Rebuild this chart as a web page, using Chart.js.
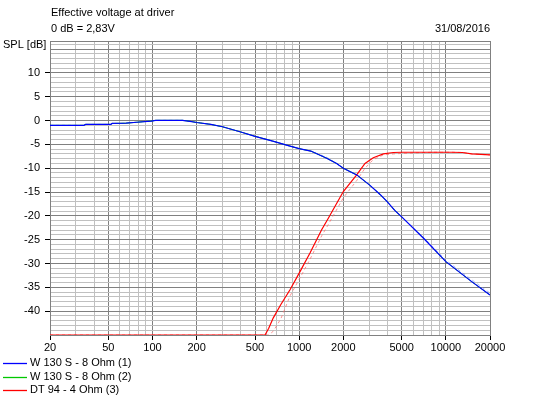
<!DOCTYPE html>
<html>
<head>
<meta charset="utf-8">
<script src="https://cdn.jsdelivr.net/npm/chart.js@4"></script>
<style>
  html, body { margin: 0; padding: 0; background: #ffffff; }
  canvas { display: block; }
</style>
</head>
<body>
<canvas id="c" width="535" height="398"></canvas>
<script>
// ---- data ----
const titleLine1 = "Effective voltage at driver";
const titleLine2 = "0 dB = 2,83V";
const dateText = "31/08/2016";
const yAxisTitle = "SPL [dB]";

const seriesNames = ["W 130 S - 8 Ohm (1)", "W 130 S - 8 Ohm (2)", "DT 94 - 4 Ohm (3)"];

const wooferFreq = [20, 34, 35, 52, 53, 66, 78, 98, 105, 160, 180, 200, 250, 300, 400, 500, 660, 820, 1000, 1200, 1540, 1800, 2000, 2470, 3040, 3560, 3950, 4500, 5000, 7100, 10000, 15000, 20000];
const wooferDb   = [-1.0, -1.0, -0.8, -0.8, -0.6, -0.55, -0.35, -0.1, 0.05, 0.05, -0.15, -0.4, -0.8, -1.3, -2.4, -3.3, -4.3, -5.15, -5.9, -6.4, -7.9, -9.0, -10.0, -11.4, -13.6, -15.5, -16.9, -18.9, -20.2, -24.8, -29.6, -33.8, -36.6];
const wooferRefDb = [-1.0, -1.0, -0.8, -0.8, -0.6, -0.55, -0.35, -0.1, 0.05, 0.05, -0.15, -0.4, -0.8, -1.3, -2.4, -3.3, -4.3, -5.15, -5.9, -6.4, -7.7, -9.0, -10.0, -11.4, -13.6, -15.5, -16.9, -18.9, -20.2, -24.6, -29.3, -33.4, -36.2];

const tweeterFreq = [20, 100, 585, 620, 666, 750, 866, 1013, 1185, 1423, 1580, 2000, 2466, 2810, 3200, 3750, 4380, 5000, 8000, 11000, 13000, 15000, 20000];
const tweeterDb   = [-45, -45, -45, -43.6, -41.4, -38.6, -35.5, -31.7, -27.8, -22.9, -20.5, -14.9, -11.4, -9.0, -7.8, -7.0, -6.7, -6.65, -6.65, -6.65, -6.7, -7.0, -7.2];
const tweeterRefDb = [-45, -45, -45, -45, -44.2, -41.6, -36.8, -33.0, -29.1, -24.2, -21.8, -16.2, -12.6, -10.0, -8.2, -7.2, -7.0, -6.9, -6.65, -6.65, -6.7, -7.0, -7.2];

const xTickValues = [20, 30, 40, 50, 60, 70, 80, 90, 100, 200, 300, 400, 500, 600, 700, 800, 900, 1000, 2000, 3000, 4000, 5000, 6000, 7000, 8000, 9000, 10000, 20000];
const xTickLabels = [20, 50, 100, 200, 500, 1000, 2000, 5000, 10000, 20000];
const yMin = -45, yMax = 16.7;
const yTickLabels = [10, 5, 0, -5, -10, -15, -20, -25, -30, -35, -40];

// ---- helpers ----
const pts = (xs, ys) => xs.map((x, i) => ({ x: x, y: ys[i] }));
const DARK = '#808080', LIGHT = '#c0c0c0';
const FONT = '"Liberation Sans", Arial, sans-serif';

Chart.defaults.font.family = FONT;
Chart.defaults.font.size = 11;
Chart.defaults.color = '#000000';

const textPlugin = {
  id: 'texts',
  afterDraw(chart) {
    const ctx = chart.ctx;
    const ca = chart.chartArea;
    ctx.save();
    ctx.font = '11px ' + FONT;
    ctx.fillStyle = '#000';
    ctx.textBaseline = 'middle';
    ctx.textAlign = 'left';
    ctx.fillText(titleLine1, 51, 13);
    ctx.fillText(titleLine2, 51, 29);
    ctx.fillText(yAxisTitle, 3, 45);
    ctx.textAlign = 'right';
    ctx.fillText(dateText, ca.right, 29);
    // legend, in series order
    ctx.textAlign = 'left';
    seriesNames.forEach((name, i) => {
      const d = chart.data.datasets.find(ds => ds.label === name);
      if (!d) return;
      const y = 363 + i * 13.5;
      ctx.strokeStyle = d.borderColor;
      ctx.lineWidth = 1.3;
      ctx.beginPath();
      ctx.moveTo(3, Math.round(y) + 0.5);
      ctx.lineTo(27, Math.round(y) + 0.5);
      ctx.stroke();
      ctx.fillText(d.label, 30, y);
    });
    ctx.restore();
  }
};

new Chart(document.getElementById('c'), {
  type: 'line',
  data: {
    datasets: [
      { label: 'ref-woofer', data: pts(wooferFreq, wooferRefDb), borderColor: 'rgba(110,130,255,0.6)', borderDash: [3, 3], borderWidth: 1, pointRadius: 0, tension: 0, order: 5 },
      { label: 'ref-tweeter', data: pts(tweeterFreq, tweeterRefDb), borderColor: 'rgba(255,100,100,0.7)', borderDash: [3, 3], borderWidth: 1, pointRadius: 0, tension: 0, order: 4 },
      { label: seriesNames[1], data: pts(wooferFreq, wooferDb), borderColor: '#00c800', borderWidth: 1, pointRadius: 0, tension: 0, order: 3 },
      { label: seriesNames[0], data: pts(wooferFreq, wooferDb), borderColor: '#0000ff', borderWidth: 1.2, pointRadius: 0, tension: 0, order: 1 },
      { label: seriesNames[2], data: pts(tweeterFreq, tweeterDb), borderColor: '#ff0000', borderWidth: 1.2, pointRadius: 0, tension: 0, order: 2 }
    ]
  },
  options: {
    responsive: false,
    animation: false,
    layout: { padding: { top: 41, right: 45, left: 0, bottom: 0 } },
    plugins: {
      legend: { display: false },
      tooltip: { enabled: false },
      title: { display: false }
    },
    scales: {
      x: {
        type: 'logarithmic',
        min: 20,
        max: 20000,
        afterBuildTicks(scale) {
          scale.ticks = xTickValues.map(v => ({ value: v, major: false }));
        },
        afterFit(scale) { scale.height = 63; },
        ticks: {
          autoSkip: false,
          maxRotation: 0,
          minRotation: 0,
          padding: 1,
          font: { size: 11, family: FONT },
          color: '#000',
          callback(value) { return xTickLabels.includes(value) ? String(value) : ''; }
        },
        grid: {
          drawOnChartArea: true,
          drawTicks: true,
          tickLength: 5,
          lineWidth: 1,
          color(ctx) {
            const v = ctx.tick ? ctx.tick.value : null;
            return xTickLabels.includes(v) ? DARK : LIGHT;
          },
          tickColor(ctx) {
            const v = ctx.tick ? ctx.tick.value : null;
            return xTickLabels.includes(v) ? '#000' : 'rgba(0,0,0,0)';
          }
        },
        border: { display: true, color: DARK, width: 1 }
      },
      y: {
        type: 'linear',
        min: yMin,
        max: yMax,
        afterBuildTicks(scale) {
          const t = [];
          for (let v = yMin; v <= 16; v += 1) t.push({ value: v });
          t.push({ value: yMax });
          scale.ticks = t;
        },
        afterFit(scale) { scale.width = 50; },
        ticks: {
          autoSkip: false,
          padding: 5,
          font: { size: 11, family: FONT },
          color: '#000',
          callback(value) { return yTickLabels.includes(value) ? String(value) : ''; }
        },
        grid: {
          drawOnChartArea: true,
          drawTicks: true,
          tickLength: 5,
          lineWidth: 1,
          color(ctx) {
            const v = ctx.tick ? ctx.tick.value : null;
            return (v !== null && (v % 5 === 0 || v === yMax)) ? DARK : LIGHT;
          },
          tickColor(ctx) {
            const v = ctx.tick ? ctx.tick.value : null;
            return yTickLabels.includes(v) ? '#000' : 'rgba(0,0,0,0)';
          }
        },
        border: { display: true, color: DARK, width: 1 }
      }
    }
  },
  plugins: [textPlugin]
});
</script>
</body>
</html>
